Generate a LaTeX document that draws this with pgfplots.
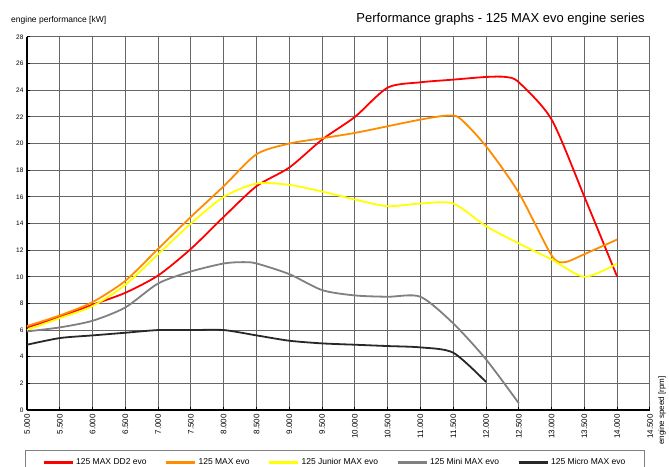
\documentclass[border=0pt]{standalone}
\usepackage{pgfplots}
\pgfplotsset{compat=1.18}
\usepackage{fontspec}
\setmainfont{Liberation Sans}
\definecolor{cRed}{RGB}{255,0,0}
\definecolor{cOrange}{RGB}{255,140,0}
\definecolor{cYellow}{RGB}{255,255,0}
\definecolor{cGray}{RGB}{128,128,128}
\definecolor{cBlack}{RGB}{40,40,40}
\begin{document}
\begin{tikzpicture}
\begin{axis}[
  scale only axis, width=623pt, height=373pt,
  xmin=5000, xmax=14500, ymin=0, ymax=28,
  xtick distance=500, ytick distance=2,
  scaled x ticks=false,
  /pgf/number format/assume math mode=true,
  xticklabel style={/pgf/number format/1000 sep={.}, /pgf/number format/fixed, rotate=90, anchor=east, inner sep=4pt, font=\fontsize{8}{9}\selectfont},
  yticklabel style={font=\fontsize{6.5}{7}\selectfont},
  axis x line*=bottom, axis y line*=left,
  axis line style={line width=1.8pt, black, -},
  tick style={black, line width=1pt},
  major tick length=3pt,
  grid=major,
  major grid style={black!60, line width=1pt},
  legend columns=5,
  legend style={at={(axis description cs:0.494,-0.107)}, anchor=north, draw=black!50, line width=0.7pt, font=\fontsize{8.5}{9}\selectfont, inner xsep=17pt, inner ysep=6pt, /tikz/every even column/.append style={column sep=16pt}},
  legend image code/.code={\draw[#1, line width=3pt] (0pt,0pt) -- (29pt,0pt);},
  every axis plot/.append style={line width=1.8pt, smooth, tension=0.45},
  clip=false,
]
\addplot[cRed] coordinates {(5000,6.2)(5500,7.0)(6000,7.9)(6500,8.8)(7000,10.1)(7500,12.1)(8000,14.5)(8500,16.8)(9000,18.2)(9500,20.3)(10000,22.0)(10500,24.2)(11000,24.6)(11500,24.8)(12000,25.0)(12300,25.0)(12500,24.6)(13000,21.8)(13500,16.0)(14000,10.0)};
\addlegendentry{125 MAX DD2 evo}
\addplot[cOrange] coordinates {(5000,6.3)(5500,7.1)(6000,8.1)(6500,9.7)(7000,12.1)(7500,14.5)(8000,16.8)(8500,19.2)(9000,20.0)(9500,20.4)(10000,20.8)(10500,21.3)(11000,21.8)(11400,22.1)(11600,21.9)(12000,19.8)(12500,16.3)(13000,11.6)(13200,11.1)(13500,11.7)(14000,12.8)};
\addlegendentry{125 MAX evo}
\addplot[cYellow] coordinates {(5000,6.0)(5500,6.9)(6000,7.8)(6500,9.4)(7000,11.7)(7500,14.0)(8000,16.0)(8500,17.0)(9000,16.9)(9500,16.4)(10000,15.8)(10500,15.3)(11000,15.5)(11500,15.5)(12000,13.8)(12500,12.5)(13000,11.3)(13500,10.0)(14000,11.0)};
\addlegendentry{125 Junior MAX evo}
\addplot[cGray] coordinates {(5000,5.9)(5500,6.2)(6000,6.7)(6500,7.7)(7000,9.5)(7500,10.4)(8000,11.0)(8300,11.1)(8500,11.0)(9000,10.2)(9500,9.0)(10000,8.6)(10500,8.5)(11000,8.5)(11500,6.5)(12000,3.8)(12500,0.5)};
\addlegendentry{125 Mini MAX evo}
\addplot[cBlack] coordinates {(5000,4.9)(5500,5.4)(6000,5.6)(6500,5.8)(7000,6.0)(7500,6.0)(8000,6.0)(8500,5.6)(9000,5.2)(9500,5.0)(10000,4.9)(10500,4.8)(11000,4.7)(11500,4.3)(12000,2.1)};
\addlegendentry{125 Micro MAX evo}
\end{axis}
\node[anchor=west, font=\fontsize{8.5}{9}\selectfont, inner sep=0pt] at (-16pt,390pt) {engine performance [kW]};
\node[anchor=east, font=\fontsize{13}{14}\selectfont, inner sep=0pt] at (618pt,391pt) {Performance graphs - 125 MAX evo engine series};
\node[rotate=90, anchor=north east, font=\fontsize{8}{9}\selectfont, inner sep=0pt] at (631pt,34pt) {engine speed [rpm]};
\pgfresetboundingbox
\path (-27pt,-56pt) rectangle (642pt,410pt);
\end{tikzpicture}
\end{document}
